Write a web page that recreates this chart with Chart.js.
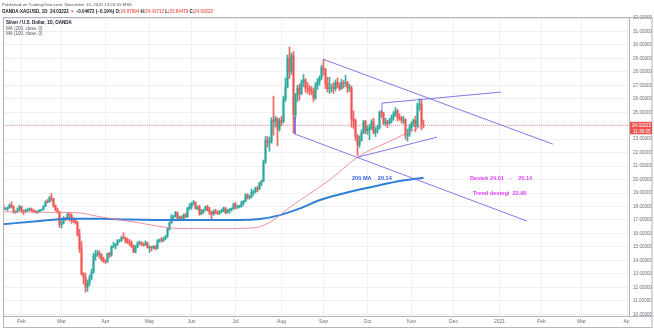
<!DOCTYPE html>
<html><head><meta charset="utf-8">
<script src="https://cdn.jsdelivr.net/npm/chart.js@4/dist/chart.umd.min.js"></script>
<style>html,body{margin:0;padding:0;background:#fff;overflow:hidden}</style>
</head><body>
<canvas id="c" width="654" height="328"></canvas>
<script>
// ---- Daily OHLC, OANDA:XAGUSD, index 0 = 20 Jan 2020 (trading-day index) ----
const opens = [
// Jan
18.06,18.06,17.81,17.84,17.93,18.10,18.02,17.58,17.62,17.75,
// Feb
18.00,17.68,17.63,17.70,17.75,17.83,17.72,17.63,17.58,17.62,17.72,17.78,18.03,18.38,18.36,18.63,18.58,18.05,17.72,17.60,
// Mar
16.65,16.75,17.15,17.10,17.40,17.35,17.05,16.95,16.80,15.90,14.85,13.00,12.75,12.00,12.30,12.70,13.10,14.30,14.45,14.55,14.40,14.05,
// Apr
13.95,13.90,14.50,14.40,15.00,15.05,15.20,15.45,15.50,15.70,15.65,15.40,15.35,15.30,15.10,14.60,15.00,15.25,15.30,15.20,15.15,15.30,
// May
14.95,14.95,14.92,15.05,14.88,15.48,15.52,15.45,15.62,15.78,16.30,16.80,17.25,17.28,17.55,17.12,17.22,17.12,17.35,17.25,17.85,
// Jun
17.95,18.25,18.30,17.85,17.95,17.45,17.60,17.75,17.95,17.75,17.55,17.45,17.65,17.55,17.50,17.60,17.70,17.85,17.55,17.70,17.75,17.85,
// Jul
18.15,17.95,18.00,18.00,18.30,18.40,18.85,18.65,18.70,19.05,19.10,19.35,19.30,19.75,19.90,21.30,22.90,22.75,22.80,24.40,24.30,24.50,23.75,
// Aug
24.40,24.30,26.00,26.90,29.00,28.00,29.20,24.80,26.30,26.80,26.40,27.20,27.40,26.80,26.75,26.60,26.55,26.05,27.00,27.30,27.55,
// Sep
28.30,28.20,27.15,26.75,26.80,26.85,26.75,27.20,27.00,26.75,27.20,27.15,27.20,26.80,26.80,24.50,24.40,23.20,22.60,22.90,23.50,24.30,
// Oct
23.60,23.75,23.85,24.30,23.50,23.70,23.85,25.00,24.95,24.15,24.30,24.20,24.35,24.60,24.90,25.10,24.60,24.55,24.40,24.45,23.30,23.35,
// Nov
23.85,24.20,24.40,23.95,25.55,25.60,24.08
];
const highs = [
18.12,18.11,17.92,17.96,18.20,18.35,18.05,17.70,17.90,18.10,
18.02,17.75,17.80,17.85,17.90,17.88,17.78,17.70,17.70,17.78,17.82,18.08,18.42,18.52,18.75,18.95,18.62,18.12,17.88,17.65,
16.95,17.25,17.20,17.50,17.55,17.45,17.15,17.10,16.90,16.30,15.40,13.10,13.05,12.55,12.90,13.35,14.55,14.75,14.75,14.70,14.50,14.25,
14.05,14.55,14.60,15.10,15.35,15.25,15.55,15.55,15.80,16.05,15.75,15.65,15.55,15.45,15.15,15.10,15.40,15.45,15.40,15.30,15.45,15.35,
15.10,15.05,15.10,15.10,15.55,15.60,15.70,15.70,15.85,16.40,16.85,17.40,17.35,17.65,17.60,17.30,17.30,17.45,17.50,17.95,18.20,
18.30,18.45,18.35,18.05,18.10,17.80,17.80,18.05,18.10,17.95,17.65,17.75,17.80,17.70,17.70,17.80,17.95,17.95,17.80,17.85,17.90,18.25,
18.30,18.10,18.10,18.40,18.45,18.95,18.95,18.85,19.30,19.20,19.45,19.50,19.80,19.95,21.45,23.20,23.20,23.15,24.60,26.20,24.70,24.60,24.55,
24.70,26.20,27.55,29.25,29.85,29.40,29.50,26.40,27.00,27.10,27.40,27.80,27.50,27.20,27.00,26.90,26.80,27.20,27.50,27.70,28.50,
28.90,28.25,27.60,27.60,27.10,27.20,27.40,27.55,27.20,27.45,27.35,27.75,27.30,27.10,26.95,25.10,24.50,23.35,23.25,23.70,24.40,24.40,
24.00,24.10,24.45,24.55,23.90,24.05,25.10,25.15,25.00,24.55,24.40,24.55,24.80,25.05,25.35,25.20,24.90,24.70,24.70,24.50,23.75,24.10,
24.30,24.50,24.70,25.70,26.00,25.90,24.42
];
const lows = [
17.98,17.73,17.76,17.70,17.85,17.90,17.50,17.50,17.55,17.70,
17.55,17.40,17.55,17.62,17.70,17.62,17.55,17.50,17.48,17.60,17.68,17.74,18.00,18.25,18.30,18.40,17.95,17.70,17.50,16.45,
16.40,16.70,16.95,17.05,16.95,16.75,16.80,16.70,15.80,14.60,12.90,12.25,11.64,11.70,12.10,12.55,13.05,14.00,14.30,14.15,13.95,13.85,
13.75,13.85,14.20,14.30,14.95,14.85,15.10,15.35,15.40,15.60,15.30,15.25,15.10,14.95,14.60,14.55,14.95,15.15,15.10,15.05,15.10,14.90,
14.60,14.70,14.85,14.80,14.85,15.35,15.35,15.40,15.55,15.70,16.25,16.75,17.05,17.20,17.05,16.95,17.05,17.00,17.15,17.20,17.75,
17.80,18.10,17.80,17.75,17.35,17.40,17.50,17.70,17.65,17.40,17.10,17.35,17.45,17.40,17.40,17.55,17.60,17.45,17.50,17.50,17.65,17.80,
17.80,17.85,17.90,17.95,18.10,18.35,18.55,18.55,18.65,18.85,19.00,19.10,19.25,19.55,19.85,21.20,22.40,22.10,22.70,23.30,23.90,22.50,23.60,
24.00,24.20,25.80,26.80,27.50,27.80,23.45,24.60,25.80,25.90,26.30,26.90,26.50,26.40,26.30,26.30,25.80,25.95,26.70,27.00,27.40,
27.75,26.75,26.50,26.40,26.50,26.40,26.60,26.80,26.60,26.70,26.80,26.90,26.45,26.55,23.90,23.80,22.90,21.80,22.40,22.85,23.40,23.40,
23.35,22.95,23.70,23.40,23.20,23.45,23.75,24.60,24.10,24.00,23.85,24.10,24.20,24.40,24.70,24.35,24.40,24.20,24.15,23.00,22.85,23.20,
23.60,23.95,23.55,23.90,25.15,23.70,23.84
];
const closes = [
18.06,17.81,17.84,17.93,18.10,18.02,17.58,17.62,17.75,18.00,
17.68,17.63,17.70,17.75,17.83,17.72,17.63,17.58,17.62,17.72,17.78,18.03,18.38,18.36,18.63,18.58,18.05,17.72,17.60,16.65,
16.75,17.15,17.10,17.40,17.35,17.05,16.95,16.80,15.90,14.85,13.00,12.75,12.00,12.30,12.70,13.10,14.30,14.45,14.55,14.40,14.05,13.95,
13.90,14.50,14.40,15.00,15.05,15.20,15.45,15.50,15.70,15.65,15.40,15.35,15.30,15.10,14.60,15.00,15.25,15.30,15.20,15.15,15.30,14.95,
14.95,14.92,15.05,14.88,15.48,15.52,15.45,15.62,15.78,16.30,16.80,17.25,17.28,17.55,17.12,17.22,17.12,17.35,17.25,17.85,17.95,
18.25,18.30,17.85,17.95,17.45,17.60,17.75,17.95,17.75,17.55,17.45,17.65,17.55,17.50,17.60,17.70,17.85,17.55,17.70,17.75,17.85,18.15,
17.95,18.00,18.00,18.30,18.40,18.85,18.65,18.70,19.05,19.10,19.35,19.30,19.75,19.90,21.30,22.90,22.75,22.80,24.40,24.30,24.50,23.75,24.40,
24.30,26.00,26.90,29.00,28.00,29.20,24.80,26.30,26.80,26.40,27.20,27.40,26.80,26.75,26.60,26.55,26.05,27.00,27.30,27.55,28.30,
28.20,27.15,26.75,26.80,26.85,26.75,27.20,27.00,26.75,27.20,27.15,27.20,26.80,26.80,24.50,24.40,23.20,22.60,22.90,23.50,24.30,23.60,
23.75,23.85,24.30,23.50,23.70,23.85,25.00,24.95,24.15,24.30,24.20,24.35,24.60,24.90,25.10,24.60,24.55,24.40,24.45,23.30,23.35,23.85,
24.20,24.40,23.95,25.55,25.60,24.10,24.03222
];

// ---- Moving averages (trading-day index, value) ----
const ma200Idx = [0.75,19.25,34.25,49.25,64.25,89.25,119.25,129.25,139.25,149.25,159.25,174.25,189.25,199.25,211];
const ma200Val = [16.69,16.92,17.10,17.10,17.03,16.99,16.99,17.07,17.36,17.86,18.48,19.09,19.59,19.89,20.14];
const ma100Idx = [0.75,29.25,36.75,49.25,65.75,89.25,109.25,126.75,134.25,144.25,154.25,164.25,178.25,194.25,211];
const ma100Val = [17.61,17.56,17.55,17.24,16.86,16.37,16.36,16.43,16.84,17.96,18.97,20.00,21.69,22.86,24.04];

// ---- Drawn trend lines (trading-day index, price) ----
const upperChannelIdx = [160.75,275.75];
const upperChannelVal = [28.94,22.63];
const lowerChannelIdx = [146.75,146.75,262.75];
const lowerChannelVal = [24.64,23.38,16.92];
const upperTriangleIdx = [190.25,190.25,249.75];
const upperTriangleVal = [25.00,25.68,26.50];
const lowerTriangleIdx = [178.25,217.75];
const lowerTriangleVal = [21.67,23.15];

// ---- Axis ticks ----
const monthTickIdx = [10,30,52,74,95,117,140,161,183,205,226,249,270,290,313];
const monthLabels = ['Feb','Mar','Apr','May','Jun','Jul','Aug','Sep','Oct','Nov','Dec','2021','Feb','Mar','Apr'];
const priceMin = 9.87, priceMax = 32;
const lastPrice = 24.03222;

// ---- Text notes placed on the chart (index, price) ----
const notes = [
  {text:'200 MA    20.14', idx:175.25, price:20.11, color:'#2f5fe0'},
  {text:'Destek 24.01    -    20.14', idx:234.25, price:20.11, color:'#e040fb'},
  {text:'Trend destegi  22.95', idx:235.75, price:19.0, color:'#e040fb'}
];

const UP = 'rgba(38,166,154,0.9)', DOWN = 'rgba(239,83,80,0.9)';
const FONT = '"Liberation Sans", Arial, sans-serif';
const pts = (xs, ys) => xs.map((x,i)=>({x, y:ys[i]}));
const candleColor = ctx => closes[ctx.dataIndex] >= opens[ctx.dataIndex] ? UP : DOWN;
const trendStyle = {type:'line', borderColor:'rgba(110,96,225,0.85)', borderWidth:1, pointRadius:0, fill:false, order:0, tension:0};

const overlay = {
  id:'overlay',
  afterDatasetsDraw(chart){
    const ctx = chart.ctx, xs = chart.scales.x, ys = chart.scales.y;
    ctx.save();
    ctx.font = 'bold 5.6px ' + FONT;
    ctx.textBaseline = 'middle';
    ctx.textAlign = 'left';
    notes.forEach(n => {
      ctx.fillStyle = n.color;
      ctx.fillText(n.text, xs.getPixelForValue(n.idx), ys.getPixelForValue(n.price));
    });
    ctx.restore();
  },
  afterDraw(chart){
    const ctx = chart.ctx, ys = chart.scales.y, a = chart.chartArea;
    ctx.save();
    ctx.fillStyle = '#fff';
    ctx.fillRect(a.right + 0.5, a.bottom + 0.5, 654 - a.right, 328 - a.bottom);
    ctx.strokeStyle = '#b2b5be';
    ctx.lineWidth = 1;
    ctx.strokeRect(a.left + 0.5, a.top - 0.5, 651.5 - a.left, 328 - a.top);
    ctx.beginPath();
    ctx.moveTo(a.left, a.bottom + 0.5); ctx.lineTo(652, a.bottom + 0.5);
    ctx.moveTo(a.right + 0.5, a.top); ctx.lineTo(a.right + 0.5, a.bottom);
    ctx.stroke();
    ctx.textBaseline = 'middle';
    ctx.textAlign = 'left';
    ctx.font = '4.4px ' + FONT;
    ctx.fillStyle = '#50535e';
    ctx.fillText('Published on TradingView.com, November 10, 2020 13:20:55 MSK', 2, 5);
    ctx.font = 'bold 4.5px ' + FONT;
    const segs = [
      ['OANDA:XAGUSD, 1D  24.03222 ', '#131722'], ['\u25BC', DOWN], [' \u22120.04672 (\u22120.19%) O:', '#131722'],
      ['24.07894', DOWN], [' H:', '#131722'], ['24.41712', DOWN], [' L:', '#131722'], ['23.84479', DOWN],
      [' C:', '#131722'], ['24.03222', DOWN]
    ];
    let x = 2;
    segs.forEach(([t,c]) => { ctx.fillStyle = c; ctx.fillText(t, x, 12); x += ctx.measureText(t).width; });
    ctx.fillStyle = '#131722';
    ctx.font = 'bold 4.5px ' + FONT;
    ctx.fillText('Silver / U.S. Dollar, 1D, OANDA', 6, 22.5);
    ctx.font = '4.5px ' + FONT;
    ctx.fillStyle = '#50535e';
    ctx.fillText('MA (200, close, 0)', 6, 28.3);
    ctx.fillText('MA (100, close, 0)', 6, 34);
    const py = ys.getPixelForValue(lastPrice);
    ctx.fillStyle = '#ef5350';
    ctx.fillRect(a.right + 1, py - 3.5, 22, 12.5);
    ctx.fillStyle = '#fff';
    ctx.font = '4.6px ' + FONT;
    ctx.fillText(lastPrice.toFixed(5), a.right + 3, py);
    ctx.fillText('11:39:05', a.right + 4, py + 6);
    ctx.restore();
  }
};

new Chart(document.getElementById('c'), {
  type: 'bar',
  data: {
    datasets: [
      {type:'line', label:'Last price', data: pts([0.75, 313.75],[lastPrice,lastPrice]), borderColor:'rgba(239,83,80,0.55)', borderWidth:1, borderDash:[1,1], pointRadius:0, order:5},
      {type:'bar', label:'Wick', data: highs.map((h,i)=>({x:i, y:[lows[i], h]})), backgroundColor: candleColor, barThickness:1, grouped:false, order:4},
      {type:'bar', label:'Body', data: opens.map((o,i)=>({x:i, y:[o, closes[i]]})), backgroundColor: candleColor, barThickness:1.3, minBarLength:0.5, grouped:false, order:3},
      {type:'line', label:'MA 100', data: pts(ma100Idx, ma100Val), borderColor:'rgba(240,128,140,0.85)', borderWidth:1, pointRadius:0, cubicInterpolationMode:'monotone', order:1},
      {type:'line', label:'MA 200', data: pts(ma200Idx, ma200Val), borderColor:'#2f80d8', borderWidth:2, pointRadius:0, cubicInterpolationMode:'monotone', order:1},
      Object.assign({label:'Upper channel', data: pts(upperChannelIdx, upperChannelVal)}, trendStyle),
      Object.assign({label:'Lower channel', data: pts(lowerChannelIdx, lowerChannelVal)}, trendStyle),
      Object.assign({label:'Upper triangle', data: pts(upperTriangleIdx, upperTriangleVal)}, trendStyle),
      Object.assign({label:'Lower triangle', data: pts(lowerTriangleIdx, lowerTriangleVal)}, trendStyle)
    ]
  },
  options: {
    responsive:false, animation:false, events:[],
    layout:{padding:{left:3, top:18, right:2, bottom:1}},
    plugins:{legend:{display:false}, tooltip:{enabled:false}},
    scales:{
      x:{type:'linear', min:0.75, max:313.75, offset:false,
        afterBuildTicks(s){ s.ticks = monthTickIdx.map(v=>({value:v})); },
        afterFit(s){ s.height = 11; },
        ticks:{autoSkip:false, maxRotation:0, minRotation:0, padding:3, color:'#6a6d78', font:{size:5, family:FONT}, callback:(v,i)=>monthLabels[i]},
        grid:{offset:false, color:'#eef0f5', drawTicks:false}, border:{display:false}},
      y:{type:'linear', position:'right', min:priceMin, max:priceMax,
        afterFit(s){ s.width = 23; },
        ticks:{stepSize:1, includeBounds:false, padding:4, color:'#6a6d78', font:{size:4.6, family:FONT}, callback:v=>v.toFixed(5)},
        grid:{color:'#eef0f5', drawTicks:false}, border:{display:false}}
    }
  },
  plugins:[overlay]
});
</script>
</body></html>
